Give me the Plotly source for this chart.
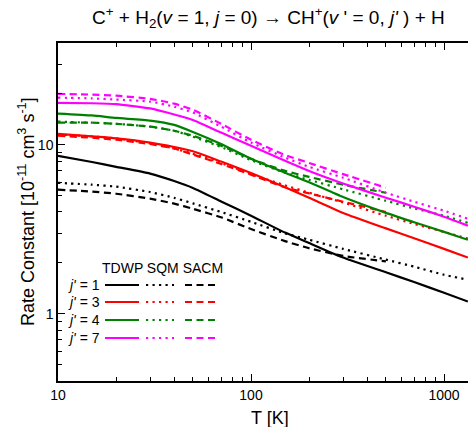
import plotly.graph_objects as go

# ---- data (T in K, rate constants in 1e-11 cm^3 s^-1) ----
T_full = [10, 15, 20, 30, 40, 50, 70, 100, 150, 200, 300, 500, 700, 1000, 1330]
T_sacm = [10, 15, 20, 30, 40, 50, 70, 100, 150, 200, 300, 500]

tdwp_j1 = [8.6, 7.9, 7.4, 6.75, 6.1, 5.55, 4.62, 3.8, 3.02, 2.62, 2.15, 1.76, 1.54, 1.33, 1.18]
sqm_j1 = [5.95, 5.8, 5.65, 5.25, 4.85, 4.5, 4.0, 3.5, 2.99, 2.74, 2.42, 2.09, 1.9, 1.7, 1.59]
sacm_j1 = [5.42, 5.28, 5.13, 4.8, 4.48, 4.18, 3.72, 3.17, 2.69, 2.44, 2.2, 2.04]

tdwp_j3 = [11.6, 11.2, 10.9, 10.3, 9.7, 9.15, 7.95, 6.8, 5.6, 4.86, 3.95, 3.2, 2.8, 2.42, 2.15]
sqm_j3 = [11.5, 11.2, 10.9, 10.2, 9.5, 8.85, 7.8, 6.7, 5.75, 5.2, 4.55, 3.8, 3.4, 3.05, 2.78]
sacm_j3 = [11.3, 11.0, 10.7, 10.1, 9.5, 8.75, 7.7, 6.65, 5.6, 5.15, 4.6, 4.0]

tdwp_j4 = [15.3, 14.9, 14.4, 13.9, 13.1, 11.9, 10.1, 8.26, 6.83, 6.0, 4.9, 3.95, 3.48, 3.05, 2.74]
sqm_j4 = [13.7, 13.5, 13.3, 12.8, 12.1, 11.15, 9.7, 8.1, 6.83, 6.2, 5.45, 4.66, 4.2, 3.8, 3.45]
sacm_j4 = [13.5, 13.5, 13.3, 12.8, 12.1, 11.3, 9.86, 8.26, 7.0, 6.45, 5.8, 5.2]

tdwp_j7 = [17.7, 17.6, 17.4, 16.4, 15.1, 14.0, 11.8, 9.86, 8.04, 7.0, 5.9, 4.86, 4.3, 3.75, 3.32]
sqm_j7 = [19.0, 18.8, 18.5, 18.0, 16.8, 15.5, 12.8, 10.3, 8.4, 7.4, 6.38, 5.2, 4.6, 4.07, 3.65]
sacm_j7 = [20.0, 19.8, 19.5, 18.7, 17.5, 16.1, 13.3, 10.7, 8.7, 7.8, 6.7, 5.57]

j_labels = ["1", "3", "4", "7"]
colors = ["#000000", "#FF0000", "#008000", "#FF00FF"]
methods = ["TDWP", "SQM", "SACM"]

x_major = [10, 100, 1000]
x_minor = [20, 30, 40, 50, 60, 70, 80, 90, 200, 300, 400, 500, 600, 700, 800, 900]
y_major = [1, 10]
y_minor = [0.4, 0.5, 0.6, 0.7, 0.8, 0.9, 2, 3, 4, 5, 6, 7, 8, 9, 20, 30, 40]

FONT = "Liberation Sans, Arial, sans-serif"
LW = 2.2
DOT = "2.2px,4.3px"
DASH = "7px,4.5px"
dash_styles = ["solid", DOT, DASH]

series = [
    (tdwp_j1, sqm_j1, sacm_j1),
    (tdwp_j3, sqm_j3, sacm_j3),
    (tdwp_j4, sqm_j4, sacm_j4),
    (tdwp_j7, sqm_j7, sacm_j7),
]

fig = go.Figure()
for (td, sq, sa), col, jl in zip(series, colors, j_labels):
    for ys, xs, ds, m in ((td, T_full, "solid", "TDWP"), (sq, T_full, DOT, "SQM"), (sa, T_sacm, DASH, "SACM")):
        fig.add_trace(go.Scatter(x=xs, y=ys, mode="lines", name=f"{m} j'={jl}",
                                 line=dict(color=col, width=LW, dash=ds, shape="spline", smoothing=0.5),
                                 showlegend=False))

# geometry (pixels)
W, H = 468, 427
L, R, Tm, B = 58, 0, 43, 46
pw, ph = W - L - R, H - Tm - B

def px(xp):
    return (xp - L) / pw

def py(yp):
    return (H - B - yp) / ph

annotations = []
shapes = []
# legend table
annotations.append(dict(x=px(100), y=py(268), xref="paper", yref="paper", text="TDWP SQM SACM",
                        showarrow=False, xanchor="left", yanchor="middle", font=dict(size=14, family=FONT, color="black")))
row_y = [285, 302, 320, 338]
seg_x = [(105, 139), (146, 174), (185, 215)]
for jl, col, ry in zip(j_labels, colors, row_y):
    annotations.append(dict(x=px(102), y=py(ry), xref="paper", yref="paper", text=f"<i>j'</i> = {jl}",
                            showarrow=False, xanchor="right", yanchor="middle",
                            font=dict(size=14, family=FONT, color="black")))
    for (x0, x1), ds in zip(seg_x, dash_styles):
        shapes.append(dict(type="line", xref="paper", yref="paper", x0=px(x0), x1=px(x1), y0=py(ry), y1=py(ry),
                           line=dict(color=col, width=LW, dash=ds)))

# titles
annotations.append(dict(x=px(268), y=py(17), xref="paper", yref="paper",
                        text="C<sup>+</sup> + H<sub>2</sub>(<i>v</i> = 1, <i>j</i> = 0) → CH<sup>+</sup>(<i>v</i> ' = 0, <i>j'</i> ) + H",
                        showarrow=False, xanchor="center", yanchor="middle", font=dict(size=19, family=FONT, color="black")))
annotations.append(dict(x=px(270), y=py(418), xref="paper", yref="paper", text="T [K]",
                        showarrow=False, xanchor="center", yanchor="middle", font=dict(size=18, family=FONT, color="black")))
annotations.append(dict(x=px(26), y=py(212), xref="paper", yref="paper",
                        text="Rate Constant [10<sup>-11</sup> cm<sup>3</sup> s<sup>-1</sup>]", textangle=-90,
                        showarrow=False, xanchor="center", yanchor="middle", font=dict(size=18, family=FONT, color="black")))

fig.update_layout(
    width=W, height=H, margin=dict(l=L, r=R, t=Tm, b=B, pad=0),
    paper_bgcolor="white", plot_bgcolor="white",
    font=dict(family=FONT, size=14, color="black"),
    annotations=annotations, shapes=shapes, showlegend=False,
)
fig.update_xaxes(type="log", range=[1, 1 + (W - L - R) / 193.0], showgrid=False, zeroline=False,
                 showline=True, linecolor="black", linewidth=1.5, mirror="ticks",
                 ticks="inside", ticklen=7, tickwidth=1.2, tickcolor="black", tickvals=x_major,
                 ticktext=["10", "100", "1000"], tickfont=dict(size=14, family=FONT),
                 minor=dict(tickvals=x_minor, ticks="inside", ticklen=4, tickwidth=1.2, tickcolor="black", showgrid=False))
fig.update_yaxes(type="log", range=[-0.398, 1.602], showgrid=False, zeroline=False,
                 showline=True, linecolor="black", linewidth=1.5, mirror=False,
                 ticks="inside", ticklen=7, tickwidth=1.2, tickcolor="black", tickvals=y_major,
                 ticktext=["1", "10"], tickfont=dict(size=14, family=FONT),
                 minor=dict(tickvals=y_minor, ticks="inside", ticklen=4, tickwidth=1.2, tickcolor="black", showgrid=False))

fig.write_html("out.html")
